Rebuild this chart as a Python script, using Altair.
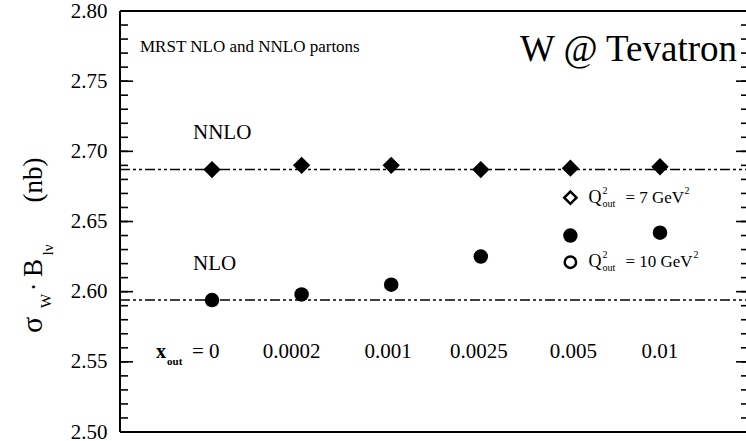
import altair as alt
import pandas as pd

# W production cross section at the Tevatron vs. the x cut on the input data
x_cut_labels = ["0", "0.0002", "0.001", "0.0025", "0.005", "0.01"]
nnlo_values = [2.687, 2.690, 2.690, 2.687, 2.688, 2.689]
nlo_values = [2.594, 2.598, 2.605, 2.625, 2.640, 2.642]
nnlo_reference = 2.687
nlo_reference = 2.594

# hollow symbols marking the Q^2 cut variants
q2_legend_values = [2.667, 2.621]
q2_legend_index = 4

# y axis ticks
major_ticks = [2.50, 2.55, 2.60, 2.65, 2.70, 2.75, 2.80]
minor_ticks = [round(2.50 + 0.01 * i, 2) for i in range(31)]

W, H = 626, 421
FONT = "Liberation Serif"

xs = alt.Scale(domain=[-1.027, 5.96], nice=False, zero=False)
ys = alt.Scale(domain=[2.50, 2.80], nice=False, zero=False)

# one shared y axis definition: labels only, ticks are drawn inward separately
AX_Y = alt.Axis(
    values=major_ticks, format=".2f", ticks=False, domain=False, grid=False,
    labelFont=FONT, labelFontSize=21, labelColor="black", labelPadding=13, title=None,
)


def X(**kw):
    return alt.X(scale=xs, axis=None, **kw)


def Y(**kw):
    return alt.Y(scale=ys, axis=AX_Y, **kw)


points = pd.DataFrame({
    "idx": list(range(len(x_cut_labels))) * 2,
    "val": nnlo_values + nlo_values,
    "order": ["NNLO"] * 6 + ["NLO"] * 6,
})


def one_row():
    return alt.Data(values=[{"k": 0}])


def px(v):
    return alt.value(v)


def txt(text, size, x, y, align="left", baseline="middle", bold=False, angle=0, dx=0, dy=0):
    """Single text mark; x/y are data coordinates or pixel values."""
    mk = alt.Chart(one_row()).mark_text(
        text=text, font=FONT, fontSize=size, align=align, baseline=baseline,
        fontWeight="bold" if bold else "normal", angle=angle, dx=dx, dy=dy, color="black",
    )
    xe = x if isinstance(x, dict) or hasattr(x, "to_dict") else X(datum=x)
    ye = y if isinstance(y, dict) or hasattr(y, "to_dict") else Y(datum=y)
    return mk.encode(x=xe, y=ye)


# frame (left, top, bottom)
frame = [
    alt.Chart(one_row()).mark_rule(color="black", strokeWidth=2).encode(
        x=px(0), y=px(0), y2=px(H)),
    alt.Chart(one_row()).mark_rule(color="black", strokeWidth=2).encode(
        x=px(0), x2=px(W), y=px(0)),
    alt.Chart(one_row()).mark_rule(color="black", strokeWidth=2).encode(
        x=px(0), x2=px(W), y=px(H)),
]

major_df = pd.DataFrame({"v": major_ticks})
minor_df = pd.DataFrame({"v": minor_ticks})
ticks = [
    alt.Chart(minor_df).mark_rule(color="black", strokeWidth=1.6).encode(
        y=Y(field="v", type="quantitative"), x=px(0), x2=px(8)),
    alt.Chart(major_df).mark_rule(color="black", strokeWidth=1.6).encode(
        y=Y(field="v", type="quantitative"), x=px(0), x2=px(13)),
    alt.Chart(minor_df).mark_rule(color="black", strokeWidth=1.6).encode(
        y=Y(field="v", type="quantitative"), x=px(W - 5), x2=px(W)),
    alt.Chart(major_df).mark_rule(color="black", strokeWidth=1.6).encode(
        y=Y(field="v", type="quantitative"), x=px(W - 10), x2=px(W)),
]

# dash-dot reference lines at the x_cut = 0 values
ref_lines = alt.Chart(pd.DataFrame({"v": [nnlo_reference, nlo_reference]})).mark_rule(
    color="black", strokeWidth=1.5, strokeDash=[10, 3, 3, 3, 3, 3]
).encode(y=Y(field="v", type="quantitative"), x=px(0), x2=px(W))

nnlo_pts = alt.Chart(points[points.order == "NNLO"]).mark_point(
    shape="diamond", filled=True, color="black", size=300, opacity=1
).encode(x=X(field="idx", type="quantitative"), y=Y(field="val", type="quantitative"))

nlo_pts = alt.Chart(points[points.order == "NLO"]).mark_point(
    shape="circle", filled=True, color="black", size=210, opacity=1
).encode(x=X(field="idx", type="quantitative"), y=Y(field="val", type="quantitative"))

legend_marks = [
    alt.Chart(one_row()).mark_point(shape="diamond", filled=True, fill="white", stroke="black",
                                    strokeWidth=2.5, size=150, opacity=1).encode(
        x=X(datum=q2_legend_index), y=Y(datum=q2_legend_values[0])),
    alt.Chart(one_row()).mark_point(shape="circle", filled=True, fill="white", stroke="black",
                                    strokeWidth=2.5, size=130, opacity=1).encode(
        x=X(datum=q2_legend_index), y=Y(datum=q2_legend_values[1])),
]


def q2_label(value, amount, sup_dx):
    i = q2_legend_index
    return [
        txt("Q", 18, i, value, dx=18),
        txt("2", 10, i, value, dx=32, dy=-7),
        txt("out", 10, i, value, dx=32, dy=6),
        txt("= " + amount + " GeV", 17, i, value, dx=55),
        txt("2", 10, i, value, dx=sup_dx, dy=-7),
    ]


q2_texts = q2_label(q2_legend_values[0], "7", 114) + q2_label(q2_legend_values[1], "10", 123)

# x_cut values written inside the plot
label_row = 2.557
label_shift = [0, -10, -3, -2, 3, 0]
cut_texts = [txt(lab, 21, i, label_row, align="center", dx=label_shift[i])
             for i, lab in enumerate(x_cut_labels) if i > 0]
cut_texts += [
    txt("x", 20, 0, label_row, bold=True, dx=-56),
    txt("out", 11, 0, label_row, bold=True, dx=-45, dy=10),
    txt("= 0", 21, 0, label_row, dx=-20),
]

annotations = [
    txt("NNLO", 21, 0, 2.713, dx=-19),
    txt("NLO", 21, 0, 2.620, dx=-19),
    txt("MRST NLO and NNLO partons", 17, px(20), px(36)),
    txt("W @ Tevatron", 37, px(617), px(39), align="right"),
]

# rotated y title: sigma_W . B_lnu (nb)
title_parts = [
    txt("σ", 30, px(-78), px(314), align="center", baseline="alphabetic", angle=270),
    txt("W", 15, px(-69), px(290), align="center", baseline="alphabetic", angle=270),
    txt("·", 26, px(-78), px(276), align="center", baseline="alphabetic", angle=270),
    txt("B", 27, px(-78), px(257), align="center", baseline="alphabetic", angle=270),
    txt("lν", 15, px(-67), px(239), align="center", baseline="alphabetic", angle=270),
    txt("(nb)", 27, px(-78), px(169), align="center", baseline="alphabetic", angle=270),
]

chart = alt.layer(
    *frame, *ticks, ref_lines, nnlo_pts, nlo_pts, *legend_marks,
    *q2_texts, *cut_texts, *annotations, *title_parts,
).properties(
    width=W, height=H,
    autosize=alt.AutoSizeParams(type="none"),
    padding={"left": 120, "top": 11, "right": 0, "bottom": 9},
    background="white",
).configure_view(strokeWidth=0)

chart.save("out.html", embed_options={"renderer": "svg", "actions": False})
